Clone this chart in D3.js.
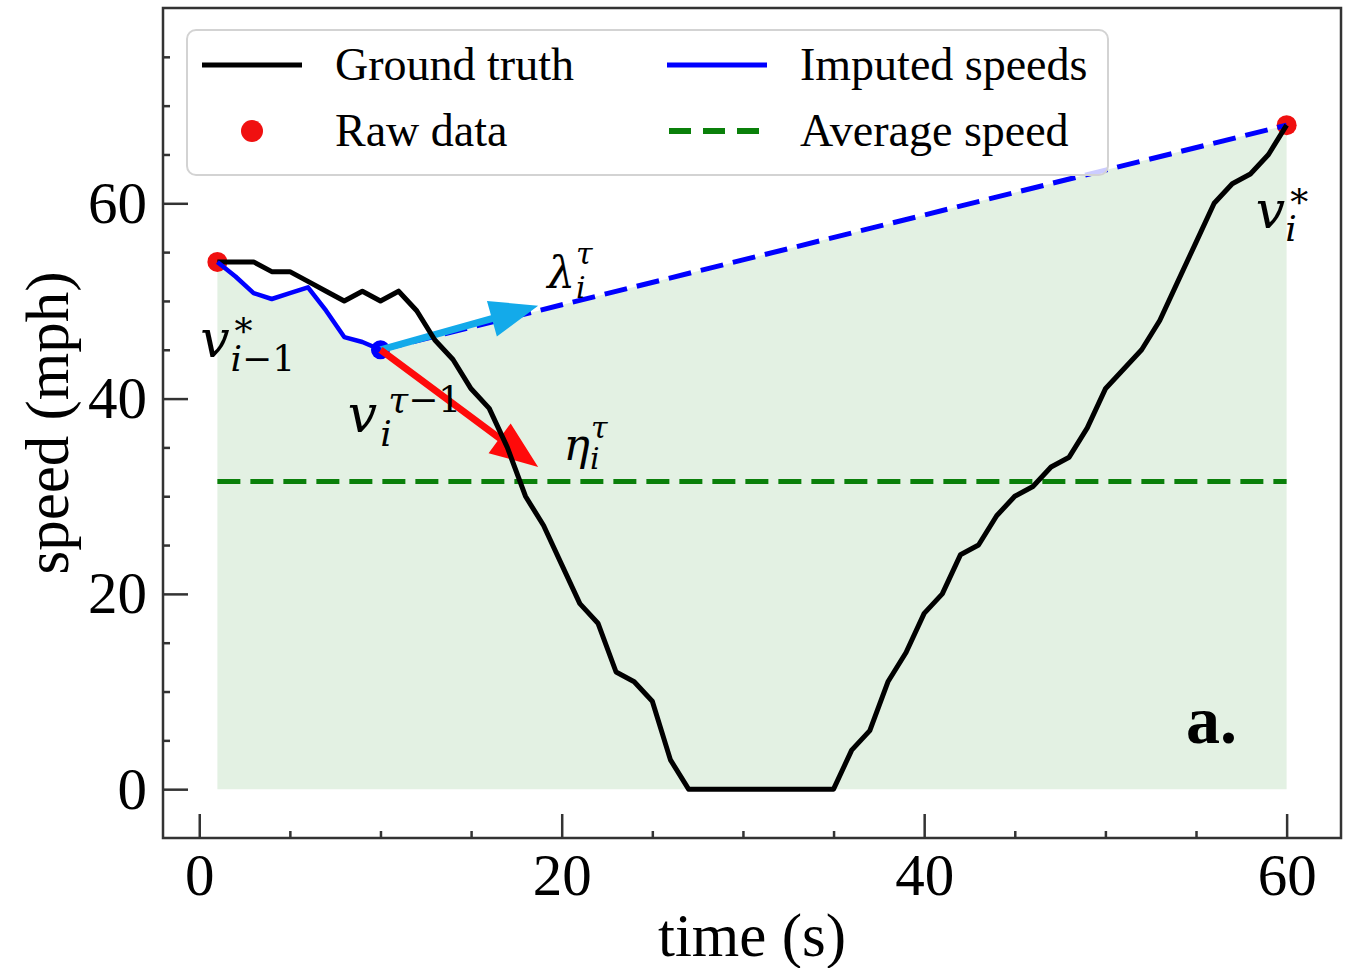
<!DOCTYPE html>
<html>
<head>
<meta charset="utf-8">
<script src="https://cdn.jsdelivr.net/npm/d3@7"></script>
<style>
  html, body { margin: 0; padding: 0; background: #fff; }
</style>
</head>
<body>
<div id="chart"></div>
<script>
// ---- data ----
const time = [1, 2, 3, 4, 5, 6, 7, 8, 9, 10,
  11, 12, 13, 14, 15, 16, 17, 18, 19, 20,
  21, 22, 23, 24, 25, 26, 27, 28, 29, 30,
  31, 32, 33, 34, 35, 36, 37, 38, 39, 40,
  41, 42, 43, 44, 45, 46, 47, 48, 49, 50,
  51, 52, 53, 54, 55, 56, 57, 58, 59, 60];
const groundTruth = [54, 54, 54, 53, 53, 52, 51, 50, 51, 50,
  51, 49, 46, 44, 41, 39, 35, 30, 27, 23,
  19, 17, 12, 11, 9, 3, 0, 0, 0, 0,
  0, 0, 0, 0, 0, 4, 6, 11, 14, 18,
  20, 24, 25, 28, 30, 31, 33, 34, 37, 41,
  43, 45, 48, 52, 56, 60, 62, 63, 65, 68];
const imputedTime = [1, 2, 3, 4, 5, 6, 7, 8, 9, 10];
const imputedSpeed = [54, 52.5, 50.8, 50.2, 50.8, 51.4, 49, 46.3, 45.8, 45];
const rawTime = [1, 60];
const rawSpeed = [54, 68];
const avgSpeed = 31.5;
const lambdaTip = [18.7, 49.5];
const etaTip = [18.7, 33];

const xMajor = [0, 20, 40, 60];
const xMinor = [5, 10, 15, 25, 30, 35, 45, 50, 55];
const yMajor = [0, 20, 40, 60];
const yMinor = [5, 10, 15, 25, 30, 35, 45, 50, 55, 65, 70, 75];

const legendLabels = ["Ground truth", "Raw data", "Imputed speeds", "Average speed"];

// ---- layout ----
const width = 1350, height = 968;
const marginTop = 8, marginRight = 9, marginBottom = 130, marginLeft = 163;

const x = d3.scaleLinear([-2, 63], [marginLeft, width - marginRight]);
const y = d3.scaleLinear([-5, 80], [height - marginBottom, marginTop]);

const serif = "'Liberation Serif', 'Times New Roman', serif";
const mathFont = "'DejaVu Serif', serif";
const axisColor = "#333";

const svg = d3.select("#chart")
  .append("svg")
  .attr("width", width)
  .attr("height", height)
  .attr("viewBox", [0, 0, width, height]);

// shaded area under imputed speeds (solid part + straight line to next raw point)
const last = imputedTime.length - 1;
const fillPts = imputedTime.map((t, i) => [t, imputedSpeed[i]])
  .concat([[rawTime[1], rawSpeed[1]]]);

svg.append("path")
  .attr("fill", "rgba(0,128,0,0.11)")
  .attr("d", d3.area()
    .x(d => x(d[0]))
    .y0(y(0))
    .y1(d => y(d[1]))(fillPts));

// average speed
svg.append("line")
  .attr("x1", x(time[0])).attr("x2", x(time[time.length - 1]))
  .attr("y1", y(avgSpeed)).attr("y2", y(avgSpeed))
  .attr("stroke", "#0a800a")
  .attr("stroke-width", 5)
  .attr("stroke-dasharray", "23,10");

// raw points
svg.append("g")
  .attr("fill", "#f01010")
  .selectAll("circle")
  .data(rawTime)
  .join("circle")
  .attr("cx", d => x(d))
  .attr("cy", (d, i) => y(rawSpeed[i]))
  .attr("r", 10);

// linear guess towards the next raw point
svg.append("line")
  .attr("x1", x(imputedTime[last])).attr("y1", y(imputedSpeed[last]))
  .attr("x2", x(rawTime[1])).attr("y2", y(rawSpeed[1]))
  .attr("stroke", "#0000ff")
  .attr("stroke-width", 5)
  .attr("stroke-dasharray", "23,10");

// current imputed point
svg.append("circle")
  .attr("cx", x(imputedTime[last]))
  .attr("cy", y(imputedSpeed[last]))
  .attr("r", 9.5)
  .attr("fill", "#0000ff");

// arrows
function arrowPath(x0, y0, x1, y1, w, hl, hw) {
  const dx = x1 - x0, dy = y1 - y0, len = Math.hypot(dx, dy);
  const ux = dx / len, uy = dy / len, nx = -uy, ny = ux;
  const bx = x1 - ux * hl, by = y1 - uy * hl;
  const pts = [
    [x0 + nx * w / 2, y0 + ny * w / 2],
    [bx + nx * w / 2, by + ny * w / 2],
    [bx + nx * hw / 2, by + ny * hw / 2],
    [x1, y1],
    [bx - nx * hw / 2, by - ny * hw / 2],
    [bx - nx * w / 2, by - ny * w / 2],
    [x0 - nx * w / 2, y0 - ny * w / 2]
  ];
  return d3.line()(pts) + "Z";
}

const arrows = [
  { tip: lambdaTip, color: "#13aaea" },
  { tip: etaTip, color: "#ff0a0a" }
];
svg.append("g")
  .selectAll("path")
  .data(arrows)
  .join("path")
  .attr("fill", d => d.color)
  .attr("d", d => arrowPath(
    x(imputedTime[last]), y(imputedSpeed[last]),
    x(d.tip[0]), y(d.tip[1]), 7, 48, 37));

// ground truth
svg.append("path")
  .attr("fill", "none")
  .attr("stroke", "#000")
  .attr("stroke-width", 5)
  .attr("stroke-linejoin", "round")
  .attr("d", d3.line()
    .x((d, i) => x(time[i]))
    .y(d => y(d))(groundTruth));

// imputed speeds
svg.append("path")
  .attr("fill", "none")
  .attr("stroke", "#0000ff")
  .attr("stroke-width", 4.5)
  .attr("stroke-linejoin", "round")
  .attr("d", d3.line()
    .x((d, i) => x(imputedTime[i]))
    .y(d => y(d))(imputedSpeed));

// ---- axes ----
function styleAxis(g) {
  g.select(".domain").remove();
  g.selectAll(".tick line").attr("stroke", axisColor).attr("stroke-width", 2.5);
  g.selectAll(".tick text")
    .attr("font-family", serif)
    .attr("font-size", 59)
    .attr("fill", "#000");
}

svg.append("g")
  .attr("transform", `translate(0,${height - marginBottom})`)
  .call(d3.axisBottom(x).tickValues(xMajor).tickSize(-24).tickPadding(15).tickFormat(d3.format("d")))
  .call(styleAxis);
svg.append("g")
  .attr("transform", `translate(0,${height - marginBottom})`)
  .call(d3.axisBottom(x).tickValues(xMinor).tickSize(-7).tickFormat(""))
  .call(styleAxis);

svg.append("g")
  .attr("transform", `translate(${marginLeft},0)`)
  .call(d3.axisLeft(y).tickValues(yMajor).tickSize(-25).tickPadding(16).tickFormat(d3.format("d")))
  .call(styleAxis);
svg.append("g")
  .attr("transform", `translate(${marginLeft},0)`)
  .call(d3.axisLeft(y).tickValues(yMinor).tickSize(-7).tickFormat(""))
  .call(styleAxis);

svg.append("rect")
  .attr("x", marginLeft)
  .attr("y", marginTop)
  .attr("width", width - marginLeft - marginRight)
  .attr("height", height - marginTop - marginBottom)
  .attr("fill", "none")
  .attr("stroke", axisColor)
  .attr("stroke-width", 2.5);

svg.append("text")
  .attr("x", (marginLeft + width - marginRight) / 2)
  .attr("y", 956)
  .attr("text-anchor", "middle")
  .attr("font-family", serif)
  .attr("font-size", 61)
  .text("time (s)");

svg.append("text")
  .attr("transform", `translate(68,${(marginTop + height - marginBottom) / 2}) rotate(-90)`)
  .attr("text-anchor", "middle")
  .attr("font-family", serif)
  .attr("font-size", 61)
  .text("speed (mph)");

// ---- math annotations ----
const labels = [
  { t: 0.05, v: 44.3, base: "v", size: 52, ss: 36,
    sup: [["*", false]], sub: [["i", true], ["\u22121", false]], supDx: 5, supRise: 13, subDx: 1, subDrop: 14 },
  { t: 8.2, v: 36.6, base: "v", size: 52, ss: 36,
    sup: [["\u03c4", true], ["\u22121", false]], sub: [["i", true]], supDx: 11, supRise: 20, subDx: 3, subDrop: 14 },
  { t: 19.2, v: 51.3, base: "\u03bb", size: 44, ss: 30,
    sup: [["\u03c4", true]], sub: [["i", true]], supDx: 1, supRise: 24, subDx: 1, subDrop: 10 },
  { t: 20.1, v: 33.7, base: "\u03b7", size: 44, ss: 30,
    sup: [["\u03c4", true]], sub: [["i", true]], supDx: 1, supRise: 22, subDx: 0, subDrop: 9 },
  { t: 58.3, v: 57.5, base: "v", size: 52, ss: 36,
    sup: [["*", false]], sub: [["i", true]], supDx: 5, supRise: 13, subDx: 0, subDrop: 13 }
];

const ann = svg.append("g").attr("font-family", mathFont).attr("fill", "#000");
labels.forEach(d => {
  const x0 = x(d.t), y0 = y(d.v);
  const txt = ann.append("text").attr("x", x0).attr("y", y0);
  const main = txt.append("tspan")
    .attr("font-size", d.size)
    .attr("font-style", "italic")
    .text(d.base);
  const w = main.node().getComputedTextLength();
  const script = (parts, sx, sy) => {
    parts.forEach(([s, it], k) => {
      const ts = txt.append("tspan")
        .attr("font-size", d.ss)
        .attr("font-style", it ? "italic" : "normal")
        .text(s);
      if (k === 0) ts.attr("x", sx).attr("y", sy);
    });
  };
  script(d.sup, x0 + w + d.supDx, y0 - d.supRise);
  script(d.sub, x0 + w + d.subDx, y0 + d.subDrop);
});

svg.append("text")
  .attr("x", 1186)
  .attr("y", 743)
  .attr("font-family", serif)
  .attr("font-weight", "bold")
  .attr("font-size", 68)
  .text("a.");

// ---- legend ----
const legend = svg.append("g").attr("font-family", serif).attr("font-size", 46);
legend.append("rect")
  .attr("x", 187).attr("y", 30)
  .attr("width", 921).attr("height", 145)
  .attr("rx", 9)
  .attr("fill", "rgba(255,255,255,0.8)")
  .attr("stroke", "#d3d3d3")
  .attr("stroke-width", 2);

const rowY = [65, 131];
const colX = [202, 667];
const textX = [335, 800];

legend.append("line")
  .attr("x1", colX[0]).attr("x2", colX[0] + 100)
  .attr("y1", rowY[0]).attr("y2", rowY[0])
  .attr("stroke", "#000").attr("stroke-width", 5);
legend.append("circle")
  .attr("cx", colX[0] + 50).attr("cy", rowY[1]).attr("r", 11)
  .attr("fill", "#f01010");
legend.append("line")
  .attr("x1", colX[1]).attr("x2", colX[1] + 100)
  .attr("y1", rowY[0]).attr("y2", rowY[0])
  .attr("stroke", "#0000ff").attr("stroke-width", 5);
legend.append("line")
  .attr("x1", colX[1] + 2).attr("x2", colX[1] + 92)
  .attr("y1", rowY[1]).attr("y2", rowY[1])
  .attr("stroke", "#0a800a").attr("stroke-width", 6)
  .attr("stroke-dasharray", "22,12");

legend.selectAll("text.lbl")
  .data(legendLabels)
  .join("text")
  .attr("class", "lbl")
  .attr("x", (d, i) => textX[Math.floor(i / 2)])
  .attr("y", (d, i) => rowY[i % 2])
  .attr("dy", "0.33em")
  .text(d => d);
</script>
</body>
</html>
